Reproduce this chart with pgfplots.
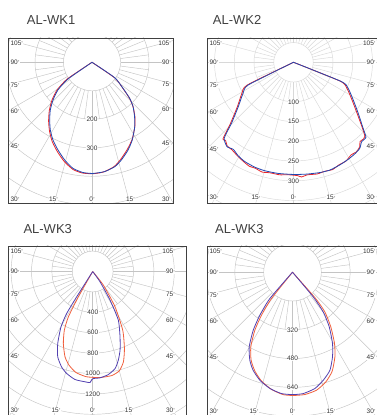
\documentclass[border=0pt]{standalone}
\usepackage{fontspec}
\setmainfont{Liberation Sans}
\usepackage{pgfplots}
\pgfplotsset{compat=1.18}
\definecolor{tc}{HTML}{333333}
\definecolor{fr}{HTML}{404040}
\definecolor{gA}{HTML}{C4C4C4}
\definecolor{gB}{HTML}{D8D8D8}
\definecolor{redA}{HTML}{E8262C}
\definecolor{bluA}{HTML}{2447B0}
\definecolor{redB}{HTML}{F0603E}
\definecolor{bluB}{HTML}{5240B0}
\newcommand{\dg}{\raisebox{0.6pt}{\fontsize{4}{4}\selectfont °}}
\newcommand{\labf}{\fontsize{6.5}{7}\selectfont}
\tikzset{lab/.style={font=\labf, text=tc, fill=white, inner sep=0.4pt}}
% grid: L B R T cx cy step nrings color
\newcommand{\pgrid}[9]{%
 \begin{scope}
 \clip (#1,#2) rectangle (#3,#4);
 \foreach \k in {1,...,#8} {\draw[#9, line width=0.45pt] (#5,#6) circle[radius={\k*#7}];}
 \foreach \a in {0,15,...,345} {\draw[#9, line width=0.45pt] ([shift={(\a:#7)}]#5,#6) -- ([shift={(\a:400)}]#5,#6);}
 \foreach \a in {7.5,22.5,...,352.5} {\draw[#9, line width=0.45pt] ([shift={(\a:#7)}]#5,#6) -- ([shift={(\a:{2*#7})}]#5,#6);}
 \end{scope}}
% angle labels: L R cx cy T yb dx15
\newcommand{\alabels}[7]{%
 \node[lab,anchor=west] at ({#1+2},{#5-5}) {105\dg};
 \node[lab,anchor=west] at ({#1+2},#4) {90\dg};
 \node[lab,anchor=west] at ({#1+2},{#4-(#3-#1)*0.2679}) {75\dg};
 \node[lab,anchor=west] at ({#1+2},{#4-(#3-#1)*0.5774}) {60\dg};
 \node[lab,anchor=west] at ({#1+2},{#4-(#3-#1)}) {45\dg};
 \node[lab,anchor=west] at ({#1+2},#6) {30\dg};
 \node[lab] at ({#3-#7},#6) {15\dg};
 \node[lab] at (#3,#6) {0\dg};
 \node[lab] at ({#3+#7},#6) {15\dg};
 \node[lab,anchor=east] at ({#2-1.5},#6) {30\dg};
 \node[lab,anchor=east] at ({#2-1.5},{#5-5}) {105\dg};
 \node[lab,anchor=east] at ({#2-1.5},#4) {90\dg};
 \node[lab,anchor=east] at ({#2-1.5},{#4-(#2-#3)*0.2679}) {75\dg};
 \node[lab,anchor=east] at ({#2-1.5},{#4-(#2-#3)*0.5774}) {60\dg};
 \node[lab,anchor=east] at ({#2-1.5},{#4-(#2-#3)}) {45\dg};
}
\pgfplotsset{pframe/.style={anchor=south west, scale only axis, xtick=\empty, ytick=\empty,
  axis line style={draw=fr, line width=0.7pt}, clip=true},
  cv/.style={line width=0.8pt, smooth, tension=0.35, data cs=polar}}
\begin{document}
\begin{tikzpicture}[x=1pt,y=1pt]
\useasboundingbox (0,0) rectangle (377,415);
\clip (0,0) rectangle (377,415);
% titles
\node[font=\fontsize{13}{14}\selectfont, text=fr, anchor=base west, inner sep=0] at (26.7,390) {AL-WK1};
\node[font=\fontsize{13}{14}\selectfont, text=fr, anchor=base west, inner sep=0] at (212.7,390) {AL-WK2};
\node[font=\fontsize{13}{14}\selectfont, text=fr, anchor=base west, inner sep=0] at (23.3,181.4) {AL-WK3};
\node[font=\fontsize{13}{14}\selectfont, text=fr, anchor=base west, inner sep=0] at (215,181.4) {AL-WK3};
% grids
\pgrid{8}{212}{173}{377}{92}{352.7}{28.5}{6}{gA}
\pgrid{207}{212}{377.6}{377}{293.5}{352.7}{19.75}{9}{gB}
\pgrid{8}{-1}{186.7}{169}{92.7}{143.5}{20.4}{9}{gA}
\pgrid{207}{-1}{377.6}{169}{292.5}{142.8}{28.8}{6}{gA}
% panel 1
\begin{axis}[pframe, at={(8pt,212pt)}, width=165pt, height=165pt,
  xmin=-294.74, xmax=284.21, ymin=-493.68, ymax=85.26]
\addplot[cv, redA] coordinates {(-180,0) (-146,105) (-141.5,157) (-136.5,194) (-131.5,226) (-126.5,256) (-121.5,285) (-116.5,312) (-111,337) (-105.5,362) (-100,382) (-95,390) (-89.5,391) (-84,387) (-78,374) (-73.5,355) (-68,330) (-62.5,305) (-56.5,272) (-52,245) (-47.5,214) (-44,184) (-40.5,145) (-34.5,98) (0,0)};
\addplot[cv, bluA] coordinates {(-180,0) (-145.2,103) (-140.9,154) (-136.0,190) (-131.2,222) (-126.3,251) (-121.6,279) (-116.7,305) (-111.2,330) (-105.6,356) (-100.2,378) (-94.7,388) (-89.5,390) (-83.4,386) (-77.7,375) (-73.3,358) (-67.7,333) (-62.6,307) (-56.4,271) (-51.9,242) (-47.2,212) (-43.7,183) (-40.0,142) (-34.1,96) (0,0)};
\end{axis}
% panel 2
\begin{axis}[pframe, at={(207pt,212pt)}, width=170.6pt, height=165pt,
  xmin=-218.99, xmax=212.91, ymin=-356.20, ymax=61.52]
\addplot[cv, redA] coordinates {(-180,0) (-153.8,131) (-148.8,153) (-141.5,182) (-135.8,223) (-132.6,264) (-131,262) (-128.5,270) (-125,271) (-121,276) (-117,281) (-113,286) (-110,285) (-106,289) (-102,286) (-97,287) (-93,285) (-88,287) (-86,291) (-83,287) (-78,289) (-74,287) (-70,289) (-66,284) (-62,283) (-58,276) (-55,277) (-52,272) (-50,262) (-47.5,263) (-46,260) (-43.5,240) (-38.5,205) (-32.5,175) (-25.8,150) (-22,128) (0,0)};
\addplot[cv, bluA] coordinates {(-180,0) (-153.4,128) (-148.4,150) (-141.3,179) (-135.5,220) (-132.4,260) (-128.2,272) (-124.7,268) (-120.6,275) (-116.1,280) (-110.2,283) (-104.8,284) (-97.9,284) (-90,284) (-83.4,285) (-76.6,287) (-71.4,288) (-65.7,285) (-60.6,282) (-56.2,279) (-52.4,275) (-49.4,265) (-46.0,264) (-43.5,243) (-38.3,209) (-32.3,179) (-25.4,153) (-21.9,131) (0,0)};
\end{axis}
% panel 3
\begin{axis}[pframe, at={(8pt,-1pt)}, width=178.7pt, height=170pt,
  xmin=-830.39, xmax=921.57, ymin=-1416.67, ymax=250]
\addplot[cv, redB] coordinates {(-180,0) (-119.5,285) (-118.2,504) (-115.8,639) (-112.2,762) (-108.0,879) (-104.2,947) (-99.4,1004) (-93.3,1034) (-86.0,1042) (-79.6,1037) (-75.0,1008) (-71.2,935) (-67.6,816) (-62.9,646) (-57.7,410) (-52.0,170) (0,0)};
\addplot[cv, bluB] coordinates {(-180,0) (-122.3,294) (-121.8,484) (-119.8,625) (-115.9,785) (-112.3,904) (-108.0,985) (-104.3,1032) (-99.3,1073) (-94.0,1084) (-91.4,1089) (-90.5,1060) (-89.6,1049) (-86.1,1045) (-81.4,1022) (-77.0,976) (-73.9,905) (-70.8,816) (-67.3,694) (-62.2,539) (-58.8,328) (-54.6,124) (0,0)};
\end{axis}
% panel 4
\begin{axis}[pframe, at={(207pt,-1pt)}, width=170.6pt, height=170pt,
  xmin=-475, xmax=472.78, ymin=-798.89, ymax=145.56]
\addplot[cv, redB] coordinates {(-180,0) (-128.6,187) (-125.8,294) (-123.0,384) (-119.2,475) (-115.2,540) (-110.9,587) (-106.0,628) (-100.1,662) (-94.4,682) (-89.7,685) (-84.2,683) (-78.5,669) (-73.1,637) (-68.2,593) (-63.4,526) (-59.5,460) (-55.0,371) (-50.8,284) (-48.6,188) (0,0)};
\addplot[cv, bluB] coordinates {(-180,0) (-130.7,193) (-127.2,300) (-124.1,389) (-120.1,480) (-115.9,543) (-111.9,587) (-106.8,627) (-101.0,658) (-95.2,677) (-90,680) (-85.0,677) (-79.1,658) (-74.1,624) (-69.1,583) (-64.7,520) (-60.7,454) (-56.1,366) (-52.3,279) (-50.0,179) (0,0)};
\end{axis}
% ring labels
\node[lab] at (92,295.7) {200};
\node[lab] at (92,267.2) {300};
\node[lab] at (293.5,313.2) {100};
\node[lab] at (293.5,293.45) {150};
\node[lab] at (293.5,273.7) {200};
\node[lab] at (293.5,253.95) {250};
\node[lab] at (293.5,234.2) {300};
\node[lab] at (92.7,102.7) {400};
\node[lab] at (92.7,82.3) {600};
\node[lab] at (92.7,61.9) {800};
\node[lab] at (92.7,41.5) {1000};
\node[lab] at (92.7,21.1) {1200};
\node[lab] at (292.5,85.2) {320};
\node[lab] at (292.5,56.4) {480};
\node[lab] at (292.5,27.6) {640};
% angle labels
\alabels{8}{173}{92}{352.7}{377}{215.7}{38.5}
\alabels{207}{377.6}{293.5}{352.7}{377}{217.5}{37.5}
\alabels{8}{177}{92.7}{143.5}{169}{5}{36.7}
\alabels{207}{377.6}{292.5}{142.8}{169}{4}{38.5}
\end{tikzpicture}
\end{document}
